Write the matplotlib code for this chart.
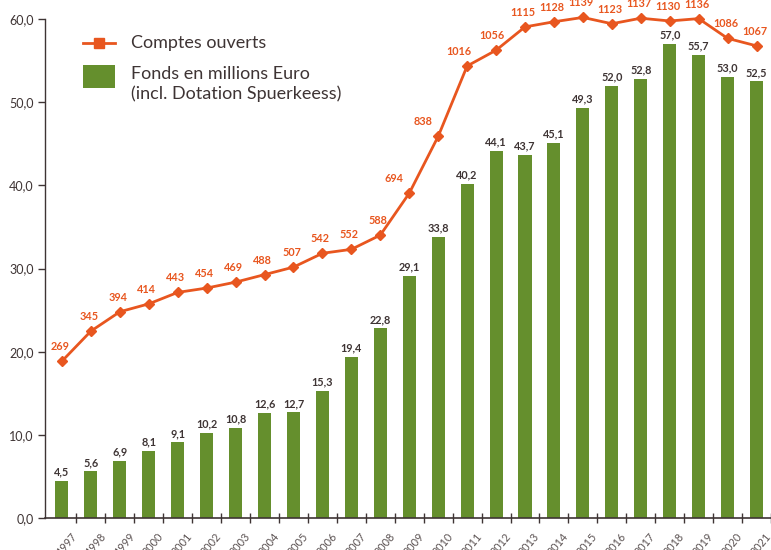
import matplotlib
matplotlib.use("Agg")
import matplotlib.pyplot as plt
from matplotlib.lines import Line2D
from matplotlib.patches import Rectangle
import matplotlib.transforms as mtransforms

years = [str(y) for y in range(1997, 2022)]
fonds = [4.5, 5.6, 6.9, 8.1, 9.1, 10.2, 10.8, 12.6, 12.7, 15.3, 19.4, 22.8, 29.1,
         33.8, 40.2, 44.1, 43.7, 45.1, 49.3, 52.0, 52.8, 57.0, 55.7, 53.0, 52.5]
comptes = [269, 345, 394, 414, 443, 454, 469, 488, 507, 542, 552, 588, 694,
           838, 1016, 1056, 1115, 1128, 1139, 1123, 1137, 1130, 1136, 1086, 1067]
yticks = [0, 10, 20, 30, 40, 50, 60]
legend_labels = ["Comptes ouverts", "Fonds en millions Euro\n(incl. Dotation Spuerkeess)"]

GREEN = "#658f2d"
ORANGE = "#e8561f"
DARK = "#3e3434"
GREY = "#5b5252"

plt.rcParams['font.family'] = ['Lato', 'DejaVu Sans']

W, H = 771, 550
fig = plt.figure(figsize=(W / 100, H / 100), dpi=100)
ax = fig.add_axes([45/W, 32/H, 726/W, 499/H])
x = list(range(len(years)))

ax.bar(x, fonds, width=0.45, color=GREEN, zorder=2)
ax.set_xlim(-17/29, -17/29 + 726/29)
ax.set_ylim(0, 60)

for xi, v in zip(x, fonds):
    ax.annotate(f"{v:.1f}".replace(".", ","), (xi, v), xytext=(0, 2.5),
                textcoords="offset points", ha="center", va="bottom",
                fontsize=7.8, fontweight="bold", color=DARK)

ax2 = ax.twinx()
ax2.set_position(ax.get_position())
ax2.set_ylim(-128, 1135)
ax2.plot(x, comptes, color=ORANGE, lw=2.0, marker="D", ms=5.5, clip_on=False, zorder=3)
ax2.axis("off")

nudge = {694: -15, 838: -15, 1016: -8, 1056: -4}
for xi, v in zip(x, comptes):
    dx = nudge.get(v, -2)
    ax2.annotate(str(v), (xi, v), xytext=(dx * 0.72, 6.5), textcoords="offset points",
                 ha="center", va="bottom", fontsize=7.8, fontweight="bold",
                 color=ORANGE, annotation_clip=False)

for s in ["top", "right"]:
    ax.spines[s].set_visible(False)
ax.spines["left"].set_color(DARK)
ax.spines["bottom"].set_color(DARK)
ax.spines["left"].set_linewidth(1.0)
ax.spines["bottom"].set_linewidth(1.2)

ax.set_yticks(yticks)
ax.set_yticklabels([f"{t:.1f}".replace(".", ",") for t in yticks])
ax.tick_params(axis="y", direction="out", length=5, width=1, color=DARK,
               labelsize=9, labelcolor=DARK, pad=3)

ax.set_xticks(x)
ax.set_xticklabels(years, rotation=50, ha="right", rotation_mode="anchor")
ax.set_xticks([i + 0.5 for i in x], minor=True)
ax.tick_params(axis="x", which="major", length=0, labelsize=7.8, labelcolor=GREY, pad=9)
ax.tick_params(axis="x", which="minor", direction="inout", length=7, width=1, color=DARK)
offset = mtransforms.ScaledTranslation(6/72, 0, fig.dpi_scale_trans)
for lbl in ax.get_xticklabels():
    lbl.set_transform(lbl.get_transform() + offset)

# legend drawn in figure pixel coordinates
def fx(px):
    return px / W

def fy(py):
    return 1 - py / H

fig.add_artist(Line2D([fx(83), fx(115)], [fy(43), fy(43)], color=ORANGE, lw=2.0,
                      transform=fig.transFigure))
fig.add_artist(Line2D([fx(99)], [fy(43)], color=ORANGE, marker="s", ms=6.5,
                      transform=fig.transFigure))
fig.add_artist(Rectangle((fx(83), fy(88)), fx(32), 23 / H, facecolor=GREEN,
                         edgecolor="none", transform=fig.transFigure))
fig.text(fx(131), fy(43), legend_labels[0], fontsize=13, color=DARK, va="center", ha="left")
fig.text(fx(131), fy(84), legend_labels[1], fontsize=13, color=DARK, va="center", ha="left",
         linespacing=1.3)

fig.savefig("out.png", dpi=100)
